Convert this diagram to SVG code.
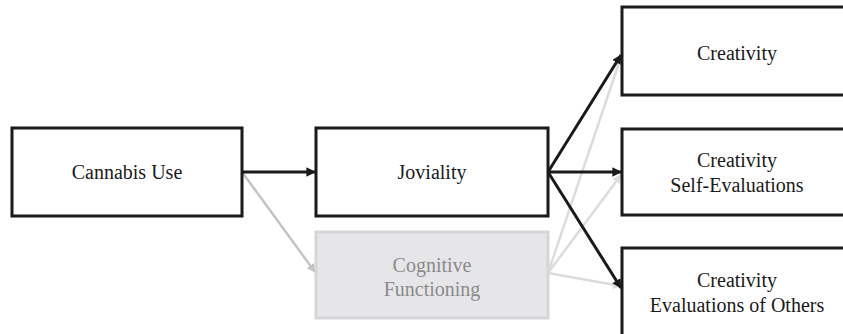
<svg xmlns="http://www.w3.org/2000/svg" width="843" height="334" viewBox="0 0 843 334">
<style>
.box{fill:#fff;stroke:#1a1a1a;stroke-width:3}
.gbox{fill:#e6e6e8;stroke:#d6d6d8;stroke-width:3}
.t{font-family:'Liberation Serif','Times New Roman',serif;font-size:20px;fill:#1a1a1a;text-anchor:middle}
.gt{fill:#8a8a8a}
.dk{stroke:#1a1a1a;stroke-width:3;fill:none;marker-end:url(#ad)}
.lg{stroke:#c4c4c4;stroke-width:2.5;fill:none;marker-end:url(#ag)}
.lg2{stroke:#dcdcdc;stroke-width:2.5;fill:none;marker-end:url(#ag2)}
</style>
<defs>
<marker id="ad" viewBox="0 0 10 10" refX="9" refY="5" markerWidth="3.2" markerHeight="3.2" orient="auto" markerUnits="strokeWidth"><path d="M0,0L10,5L0,10z" fill="#1a1a1a"/></marker>
<marker id="ag" viewBox="0 0 10 10" refX="9" refY="5" markerWidth="3.6" markerHeight="3.6" orient="auto" markerUnits="strokeWidth"><path d="M0,0L10,5L0,10z" fill="#c4c4c4"/></marker>
<marker id="ag2" viewBox="0 0 10 10" refX="9" refY="5" markerWidth="3.6" markerHeight="3.6" orient="auto" markerUnits="strokeWidth"><path d="M0,0L10,5L0,10z" fill="#dcdcdc"/></marker>
</defs>
<g id="connectors">
<line class="lg" x1="242" y1="172" x2="315" y2="272"/>
<line class="lg2" x1="548" y1="273" x2="621" y2="57"/>
<line class="lg2" x1="548" y1="273" x2="621" y2="175"/>
<line class="lg2" x1="548" y1="273" x2="621" y2="286"/>
<line class="dk" x1="242" y1="172" x2="315" y2="172"/>
<line class="dk" x1="548" y1="172" x2="621" y2="55"/>
<line class="dk" x1="548" y1="172" x2="621" y2="172"/>
<line class="dk" x1="548" y1="172" x2="621" y2="288"/>
</g>
<g id="cannabis"><rect class="box" x="12" y="128" width="230" height="88"/><text class="t" x="127" y="179">Cannabis Use</text></g>
<g id="joviality"><rect class="box" x="316" y="128" width="232" height="88"/><text class="t" x="432" y="179">Joviality</text></g>
<g id="cognitive"><rect class="gbox" x="316" y="232" width="232" height="86"/><text class="t gt" x="432" y="272">Cognitive</text><text class="t gt" x="432" y="296">Functioning</text></g>
<g id="creativity"><rect class="box" x="622" y="7" width="230" height="88"/><text class="t" x="737" y="60">Creativity</text></g>
<g id="selfeval"><rect class="box" x="622" y="129" width="230" height="86"/><text class="t" x="737" y="167">Creativity</text><text class="t" x="737" y="192">Self-Evaluations</text></g>
<g id="others"><rect class="box" x="622" y="248" width="230" height="90"/><text class="t" x="737" y="287">Creativity</text><text class="t" x="737" y="312">Evaluations of Others</text></g>
</svg>
